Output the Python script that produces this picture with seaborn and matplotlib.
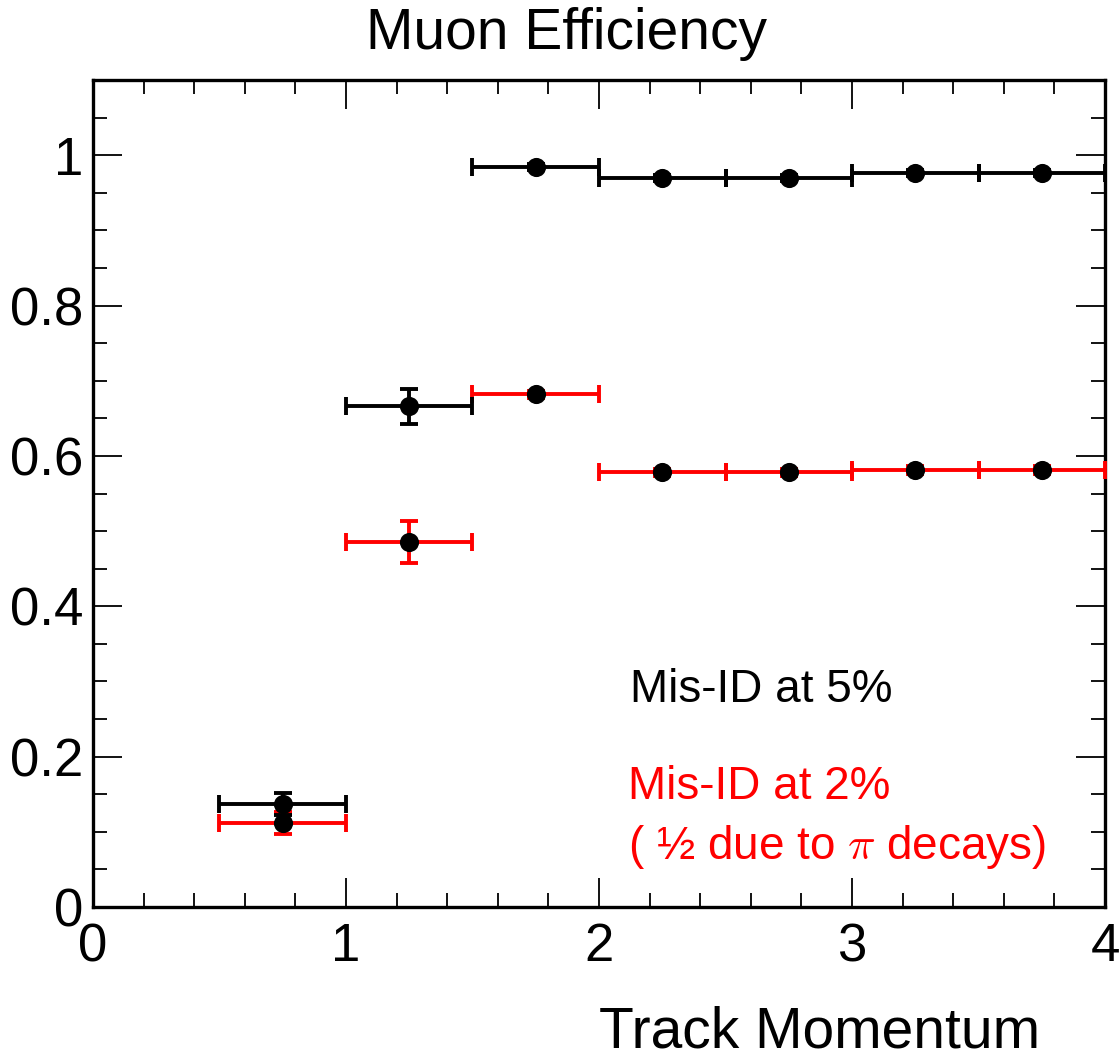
import matplotlib
matplotlib.use("Agg")
import matplotlib.pyplot as plt
from matplotlib import font_manager
from matplotlib.ticker import MultipleLocator, FixedLocator
import numpy as np
import pandas as pd
import seaborn as sns

# Momentum bins (centre and half width)
bin_centers = [0.75, 1.25, 1.75, 2.25, 2.75, 3.25, 3.75]
bin_half_width = [0.25, 0.25, 0.25, 0.25, 0.25, 0.25, 0.25]

# Muon efficiency at 5% mis-ID
eff_misid5 = [0.137, 0.666, 0.984, 0.969, 0.969, 0.976, 0.976]
err_misid5 = [0.014, 0.023, 0.004, 0.004, 0.004, 0.004, 0.004]

# Muon efficiency at 2% mis-ID
eff_misid2 = [0.112, 0.486, 0.682, 0.578, 0.578, 0.581, 0.581]
err_misid2 = [0.015, 0.028, 0.005, 0.005, 0.005, 0.005, 0.005]

y_ticks = [0, 0.2, 0.4, 0.6, 0.8, 1]
y_tick_labels = ["0", "0.2", "0.4", "0.6", "0.8", "1"]
x_ticks = [0, 1, 2, 3, 4]
x_tick_labels = ["0", "1", "2", "3", "4"]


def pick_font(candidates):
    names = {f.name for f in font_manager.fontManager.ttflist}
    for c in candidates:
        if c in names:
            return c
    return "DejaVu Sans"


sns.set_theme(style="ticks")
text_font = pick_font(["Liberation Sans", "Arial", "DejaVu Sans"])
tick_font = pick_font(["Liberation Sans Narrow", "Liberation Sans", "DejaVu Sans"])
plt.rcParams["font.family"] = [text_font, "DejaVu Sans"]
plt.rcParams["mathtext.fontset"] = "cm"

W, H = 1119, 1058
fig = plt.figure(figsize=(W / 100, H / 100), dpi=100)
ax = fig.add_axes([0.0831, 0.1427, 0.9044, 0.7817])

# Error bars: horizontal = bin width, vertical = statistical error
ax.errorbar(bin_centers, eff_misid2, xerr=bin_half_width, yerr=err_misid2,
            fmt="none", ecolor="#ff0000", elinewidth=2.8, capsize=6.5,
            capthick=2.8, clip_on=False, zorder=3)
ax.errorbar(bin_centers, eff_misid5, xerr=bin_half_width, yerr=err_misid5,
            fmt="none", ecolor="black", elinewidth=2.8, capsize=6.5,
            capthick=2.8, clip_on=False, zorder=4)

points = pd.DataFrame({
    "p": bin_centers * 2,
    "eff": eff_misid5 + eff_misid2,
})
sns.scatterplot(data=points, x="p", y="eff", color="black", s=190,
                edgecolor="black", linewidth=0, marker="o", ax=ax,
                zorder=6, legend=False)

ax.set_xlim(0, 4)
ax.set_ylim(0, 1.1)
ax.set_xlabel("")
ax.set_ylabel("")

ax.xaxis.set_major_locator(FixedLocator(x_ticks))
ax.yaxis.set_major_locator(FixedLocator(y_ticks))
ax.set_xticklabels(x_tick_labels)
ax.set_yticklabels(y_tick_labels)
ax.xaxis.set_minor_locator(MultipleLocator(0.2))
ax.yaxis.set_minor_locator(MultipleLocator(0.05))

ax.tick_params(which="both", direction="in", top=True, right=True,
               colors="black", width=1.3)
ax.tick_params(which="major", length=21)
ax.tick_params(which="minor", length=10)
ax.tick_params(axis="x", which="major", pad=11)
ax.tick_params(axis="y", which="major", pad=7)
for lab in ax.get_xticklabels() + ax.get_yticklabels():
    lab.set_fontfamily(tick_font)
    lab.set_fontsize(38)
    lab.set_color("black")

for s in ax.spines.values():
    s.set_visible(True)
    s.set_linewidth(2.4)
    s.set_color("black")

fig.text(566 / W, 1 - 34 / H, "Muon Efficiency", ha="center", va="center",
         fontsize=41, color="black")
fig.text(1040 / W, 1 - 1032 / H, "Track Momentum", ha="right", va="center",
         fontsize=41, color="black")

fig.text(630 / W, 1 - 690 / H, "Mis-ID at 5%", fontsize=33,
         color="black", va="center", ha="left")
fig.text(628 / W, 1 - 787 / H, "Mis-ID at 2%", fontsize=33,
         color="#ff0000", va="center", ha="left")
fig.text(628 / W, 1 - 847 / H, r"( ½ due to $\pi$ decays)", fontsize=33,
         color="#ff0000", va="center", ha="left")

fig.savefig("out.png", dpi=100, facecolor="white")
